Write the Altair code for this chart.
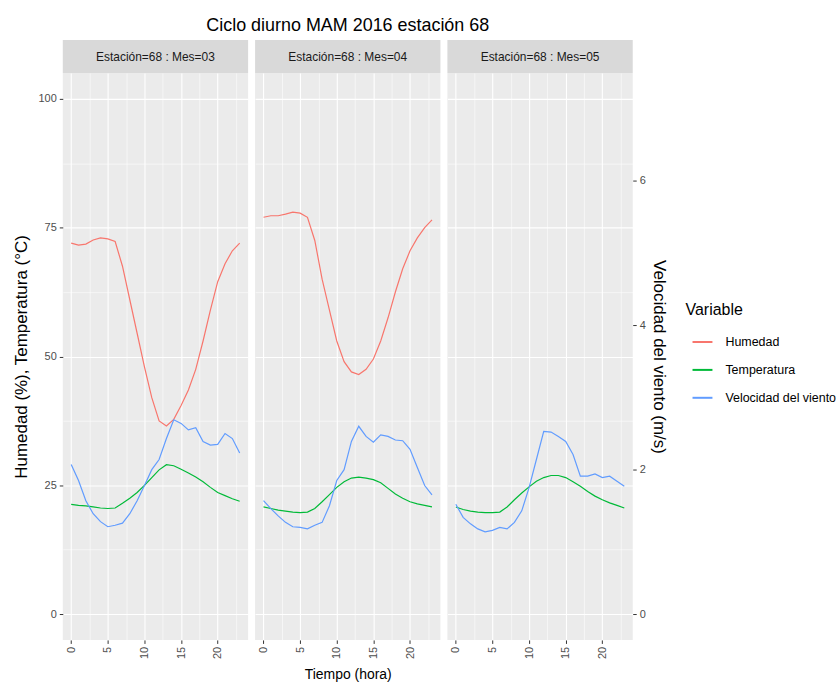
import altair as alt
import pandas as pd

# ---------------- data ----------------
hours = list(range(24))
months = ["03", "04", "05"]
strip_labels = ["Estación=68 : Mes=03", "Estación=68 : Mes=04", "Estación=68 : Mes=05"]
variables = ["Humedad", "Temperatura", "Velocidad del viento"]
colors = ["#F8766D", "#00BA38", "#619CFF"]

hum_03 = [72.0, 71.6, 71.8, 72.6, 73.0, 72.8, 72.3, 67.5, 61.0, 54.5, 48.0, 42.0,
          37.5, 36.5, 37.8, 40.5, 43.5, 47.5, 53.0, 59.0, 64.5, 68.0, 70.5, 72.0]
hum_04 = [77.0, 77.3, 77.3, 77.6, 78.0, 77.8, 77.0, 72.5, 65.0, 59.0, 53.0, 49.0,
          47.0, 46.5, 47.5, 49.5, 53.0, 57.5, 62.5, 67.0, 70.5, 73.0, 75.0, 76.5]
hum_05 = []  # no humidity data in May

temp_03 = [21.3, 21.1, 21.0, 20.8, 20.6, 20.5, 20.6, 21.5, 22.5, 23.6, 25.0, 26.5,
           28.0, 29.0, 28.8, 28.1, 27.4, 26.6, 25.7, 24.6, 23.6, 23.0, 22.4, 21.9]
temp_04 = [20.8, 20.5, 20.2, 20.0, 19.8, 19.7, 19.8, 20.5, 21.8, 23.2, 24.6, 25.7,
           26.4, 26.6, 26.4, 26.1, 25.5, 24.4, 23.3, 22.5, 21.8, 21.4, 21.1, 20.8]
temp_05 = [20.8, 20.3, 20.0, 19.8, 19.7, 19.7, 19.8, 20.8, 22.2, 23.5, 24.7, 25.8,
           26.5, 26.9, 26.9, 26.5, 25.7, 24.8, 23.8, 22.9, 22.2, 21.6, 21.1, 20.6]

wind_03 = [2.07, 1.85, 1.57, 1.39, 1.28, 1.21, 1.23, 1.26, 1.39, 1.57, 1.78, 2.00,
           2.14, 2.43, 2.69, 2.64, 2.55, 2.58, 2.39, 2.34, 2.35, 2.50, 2.43, 2.23]
wind_04 = [1.57, 1.46, 1.36, 1.27, 1.21, 1.20, 1.18, 1.23, 1.27, 1.50, 1.85, 2.00,
           2.39, 2.60, 2.46, 2.38, 2.48, 2.46, 2.41, 2.40, 2.28, 2.03, 1.78, 1.65]
wind_05 = [1.52, 1.34, 1.25, 1.18, 1.14, 1.16, 1.20, 1.18, 1.27, 1.43, 1.75, 2.14,
           2.53, 2.52, 2.46, 2.39, 2.21, 1.91, 1.91, 1.94, 1.89, 1.91, 1.84, 1.77]

hum = {"03": hum_03, "04": hum_04, "05": hum_05}
temp = {"03": temp_03, "04": temp_04, "05": temp_05}
wind = {"03": wind_03, "04": wind_04, "05": wind_05}

# ---------------- style ----------------
FONT = "Liberation Sans"
PW, PH = 186, 569
SP = 7
K = 14.02  # primary units per m/s
y_left_dom = [-5, 105]
y_right_dom = [-5 / K, 105 / K]
x_dom = [-1.15, 24.15]

y_vals = [0, 12.5, 25, 37.5, 50, 62.5, 75, 87.5, 100]
x_vals = [0, 2.5, 5, 7.5, 10, 12.5, 15, 17.5, 20, 22.5]

color_scale = alt.Scale(domain=variables, range=colors)
legend = alt.Legend(
    title="Variable", orient="none", legendX=625, legendY=263,
    titleFontSize=16, titleFont=FONT, titleFontWeight="normal", titleColor="black",
    labelFontSize=12.5, labelFont=FONT, labelColor="black",
    symbolType="stroke", symbolSize=400, symbolStrokeWidth=2,
    symbolOffset=6, labelOffset=12, rowPadding=10, titlePadding=13,
)


def x_axis(show_title):
    return alt.Axis(
        values=x_vals,
        labelExpr="datum.value % 5 === 0 ? datum.label : ''",
        labelAngle=270, labelAlign="right", labelBaseline="middle",
        labelFont=FONT, labelFontSize=11, labelColor="#4d4d4d", labelPadding=3,
        labelOverlap=False, labelFlush=False,
        tickColor="#333333", tickSize=3.5,
        tickOpacity={"condition": {"test": "datum.value % 5 !== 0", "value": 0}, "value": 1},
        domain=False,
        grid=True, gridColor="white",
        gridWidth={"condition": {"test": "datum.value % 5 !== 0", "value": 0.55}, "value": 1.1},
        title="Tiempo (hora)" if show_title else None,
        titleFont=FONT, titleFontSize=14, titleFontWeight="normal", titleColor="black",
        titlePadding=9,
    )


def y_left_axis(show):
    common = dict(
        values=y_vals, domain=False, grid=True, gridColor="white",
        gridWidth={"condition": {"test": "datum.value % 25 !== 0", "value": 0.55}, "value": 1.1},
        minExtent=0,
    )
    if show:
        return alt.Axis(
            labelExpr="datum.value % 25 === 0 ? datum.label : ''",
            labelFont=FONT, labelFontSize=11, labelColor="#4d4d4d", labelPadding=3,
            labelOverlap=False, labelFlush=False,
            tickColor="#333333", tickSize=3.5,
            tickOpacity={"condition": {"test": "datum.value % 25 !== 0", "value": 0}, "value": 1},
            title="Humedad (%), Temperatura (°C)",
            titleFont=FONT, titleFontSize=17, titleFontWeight="normal", titleColor="black",
            titlePadding=8,
            **common,
        )
    return alt.Axis(labels=False, ticks=False, title=None, **common)


def right_axis():
    return alt.Axis(
        orient="right", values=[0, 2, 4, 6], grid=False, domain=False,
        labelFont=FONT, labelFontSize=11, labelColor="#4d4d4d", labelPadding=3,
        tickColor="#333333", tickSize=3.5,
        title="Velocidad del viento (m/s)",
        titleFont=FONT, titleFontSize=17, titleFontWeight="normal", titleColor="black",
        titlePadding=4,
    )


panels = []
strips = []
for i, m in enumerate(months):
    rows = []
    for h, v in zip(hours, hum[m]):
        rows.append({"hora": h, "valor": v, "Variable": "Humedad"})
    for h, v in zip(hours, temp[m]):
        rows.append({"hora": h, "valor": v, "Variable": "Temperatura"})
    df_left = pd.DataFrame(rows)
    df_right = pd.DataFrame({"hora": hours, "viento": wind[m],
                             "Variable": ["Velocidad del viento"] * len(hours)})

    xenc = alt.X("hora:Q", scale=alt.Scale(domain=x_dom, nice=False, zero=False),
                 axis=x_axis(i == 1))

    left = alt.Chart(df_left).mark_line(strokeWidth=1.2).encode(
        x=xenc,
        y=alt.Y("valor:Q", scale=alt.Scale(domain=y_left_dom, nice=False, zero=False),
                axis=y_left_axis(i == 0)),
        color=alt.Color("Variable:N", scale=color_scale, legend=legend),
        detail="Variable:N",
    )
    if i == 2:
        yr = alt.Y("viento:Q", scale=alt.Scale(domain=y_right_dom, nice=False, zero=False),
                   axis=right_axis())
    else:
        yr = alt.Y("viento:Q", scale=alt.Scale(domain=y_right_dom, nice=False, zero=False),
                   axis=None)
    right = alt.Chart(df_right).mark_line(strokeWidth=1.2).encode(
        x=xenc,
        y=yr,
        color=alt.Color("Variable:N", scale=color_scale, legend=legend),
    )
    panel = alt.layer(left, right).resolve_scale(y="independent").properties(
        width=PW, height=PH, view=alt.ViewBackground(fill="#ebebeb", strokeWidth=0)
    )
    panels.append(panel)

    strip = alt.Chart(pd.DataFrame({"etiqueta": [strip_labels[i]]})).mark_text(
        font=FONT, fontSize=12, color="#1a1a1a"
    ).encode(text="etiqueta:N").properties(
        width=PW, height=33, view=alt.ViewBackground(fill="#d9d9d9", strokeWidth=0)
    )
    strips.append(strip)

strip_row = alt.hconcat(*strips, spacing=SP).properties(
    title=alt.TitleParams(
        "Ciclo diurno MAM 2016 estación 68", fontSize=18, font=FONT,
        fontWeight="normal", color="black", anchor="middle", offset=5,
    )
)
panel_row = alt.hconcat(*panels, spacing=SP)

chart = alt.vconcat(strip_row, panel_row, spacing=0).resolve_scale(
    color="shared"
).properties(
    padding={"left": 12, "top": 16, "right": 0, "bottom": 0},
    background="white",
).configure_view(strokeWidth=0)

chart.save("out.html", embed_options={"renderer": "svg", "actions": False})
